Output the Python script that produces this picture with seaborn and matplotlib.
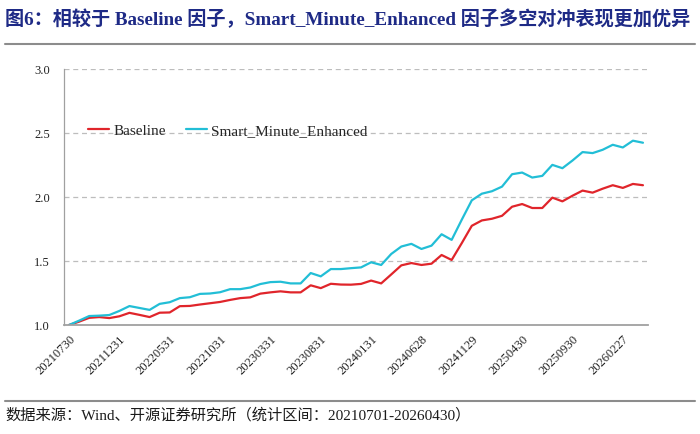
import numpy as np
import pandas as pd
import matplotlib
matplotlib.use("Agg")
import matplotlib.pyplot as plt
from matplotlib.lines import Line2D
import seaborn as sns

# ---------------- data ----------------
baseline = [1.000, 1.026, 1.056, 1.062, 1.054, 1.068, 1.095, 1.079, 1.062, 1.096,
            1.098, 1.147, 1.149, 1.160, 1.170, 1.180, 1.196, 1.210, 1.216, 1.245,
            1.255, 1.263, 1.255, 1.255, 1.310, 1.288, 1.322, 1.316, 1.315, 1.321,
            1.347, 1.325, 1.395, 1.466, 1.484, 1.469, 1.479, 1.547, 1.508, 1.639,
            1.775, 1.817, 1.830, 1.853, 1.924, 1.945, 1.914, 1.914, 1.995, 1.966,
            2.010, 2.050, 2.034, 2.065, 2.092, 2.071, 2.102, 2.092]
smart = [1.000, 1.034, 1.070, 1.073, 1.078, 1.110, 1.148, 1.133, 1.118, 1.165,
         1.178, 1.210, 1.217, 1.243, 1.246, 1.256, 1.280, 1.280, 1.293, 1.320,
         1.335, 1.338, 1.325, 1.325, 1.406, 1.380, 1.437, 1.437, 1.444, 1.450,
         1.490, 1.469, 1.555, 1.613, 1.634, 1.594, 1.620, 1.709, 1.665, 1.822,
         1.974, 2.026, 2.045, 2.081, 2.178, 2.191, 2.152, 2.165, 2.251, 2.225,
         2.285, 2.351, 2.343, 2.369, 2.408, 2.387, 2.440, 2.424]
tick_labels = ["20210730", "20211231", "20220531", "20221031", "20230331", "20230831",
               "20240131", "20240628", "20241129", "20250430", "20250930", "20260227"]
series_names = ["Baseline", "Smart_Minute_Enhanced"]
y_ticks = [1.0, 1.5, 2.0, 2.5, 3.0]

title_text = "图6：相较于 Baseline 因子，Smart_Minute_Enhanced 因子多空对冲表现更加优异"
footer_text = "数据来源：Wind、开源证券研究所（统计区间：20210701-20260430）"

# ---------------- style ----------------
sns.set_theme(style="white")
plt.rcParams["font.family"] = ["Liberation Serif", "Noto Sans CJK SC", "DejaVu Sans"]
plt.rcParams["axes.unicode_minus"] = False

n = len(baseline)
idx = np.arange(n)
df = pd.DataFrame({
    "idx": np.concatenate([idx, idx]),
    "value": baseline + smart,
    "series": [series_names[0]] * n + [series_names[1]] * n,
})

fig = plt.figure(figsize=(7.0, 4.34), dpi=100)
ax = fig.add_axes([64 / 700, 1 - 325 / 434, 584 / 700, 256 / 434])

palette = {series_names[0]: "#E0252B", series_names[1]: "#22BED6"}
sns.lineplot(data=df, x="idx", y="value", hue="series", palette=palette,
             linewidth=1.6, ax=ax, legend=True)

ax.set_xlim(-0.5, n - 0.5)
ax.set_ylim(1.0, 3.0)
ax.set_xlabel("")
ax.set_ylabel("")

# y axis
ax.set_yticks(y_ticks)
ax.set_yticklabels([f"{v:.1f}" for v in y_ticks], fontsize=9, color="#222222")
ax.tick_params(axis="y", length=0, pad=10)
for v in y_ticks[1:]:
    ax.axhline(v, color="#BDBDBD", lw=0.9, ls=(0, (4, 3)), zorder=0)

# x axis
major_pos = list(range(0, n, 5))[:len(tick_labels)]
ax.set_xticks(major_pos)
ax.set_xticklabels(tick_labels, rotation=45, ha="right", va="top",
                   rotation_mode="anchor", fontsize=9, color="#222222")
ax.tick_params(axis="x", which="major", length=0, pad=6)
ax.set_xticks([p - 0.5 for p in major_pos[1:]], minor=True)
ax.tick_params(axis="x", which="minor", direction="in", length=3.5,
               width=0.8, color="#909090")

for s in ["top", "right"]:
    ax.spines[s].set_visible(False)
ax.spines["left"].set_color("#A0A0A0")
ax.spines["left"].set_linewidth(0.9)
ax.spines["bottom"].set_color("#A0A0A0")
ax.spines["bottom"].set_linewidth(1.3)

leg = ax.legend(loc="center left", bbox_to_anchor=(0.041, 0.758), ncol=2,
                frameon=False, fontsize=11, handlelength=1.35,
                handletextpad=0.3, columnspacing=1.35, borderpad=0,
                borderaxespad=0)
for h in leg.get_lines():
    h.set_linewidth(1.6)

# title and footer
fig.text(5 / 700, 1 - 19 / 434, title_text, fontsize=13.8, fontweight="bold",
         color="#1E2A86", ha="left", va="center")
fig.add_artist(Line2D([5 / 700, 695 / 700], [1 - 44 / 434, 1 - 44 / 434],
                      transform=fig.transFigure, color="#8C8C8C", lw=1.5))
fig.add_artist(Line2D([5 / 700, 695 / 700], [1 - 401 / 434, 1 - 401 / 434],
                      transform=fig.transFigure, color="#8C8C8C", lw=1.5))
fig.text(5 / 700, 1 - 415 / 434, footer_text, fontsize=11,
         color="#1A1A1A", ha="left", va="center")

fig.savefig("out.png", dpi=100, facecolor="white")
